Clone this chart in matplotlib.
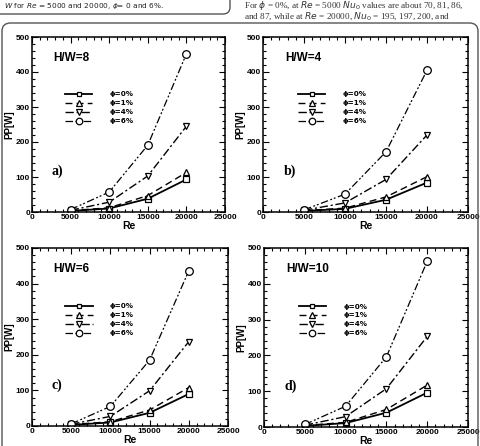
import matplotlib
matplotlib.use("Agg")
import matplotlib.pyplot as plt
from matplotlib.patches import FancyBboxPatch
from matplotlib.ticker import MultipleLocator

W, H = 481, 446
fig = plt.figure(figsize=(W / 100, H / 100), dpi=100)

re_vals = [5000, 10000, 15000, 20000]
phi_labels = ["ϕ=0%", "ϕ=1%", "ϕ=4%", "ϕ=6%"]

# PP [W] per panel, series order: phi = 0, 1, 4, 6 %
pp_hw8 = [[3, 10, 38, 93], [4, 12, 47, 113], [5, 28, 103, 245], [7, 57, 191, 452]]
pp_hw4 = [[3, 9, 35, 84], [4, 11, 43, 101], [5, 26, 93, 220], [6, 51, 172, 405]]
pp_hw6 = [[3, 10, 37, 90], [4, 12, 45, 108], [5, 27, 99, 237], [6, 55, 185, 436]]
pp_hw10 = [[3, 11, 40, 96], [4, 13, 49, 117], [5, 29, 107, 253], [7, 58, 196, 463]]

panels = [
    ("H/W=8", "a)", pp_hw8, (32, 225, 37, 212)),
    ("H/W=4", "b)", pp_hw4, (263, 468, 37, 212)),
    ("H/W=6", "c)", pp_hw6, (32, 228, 248, 426)),
    ("H/W=10", "d)", pp_hw10, (264, 468, 248, 427)),
]

markers = ["s", "^", "v", "o"]
msizes = [4.2, 4.5, 4.5, 5.5]
lstyles = ["-", (0, (5, 3)), (0, (6, 2, 1.5, 2)), (0, (6, 2, 1.5, 1.5, 1.5, 2))]
lwidths = [1.3, 1.0, 1.0, 0.9]

bold = dict(family="Liberation Sans", weight="bold")

for title, tag, data, (x0, x1, y0, y1) in panels:
    ax = fig.add_axes([x0 / W, 1 - y1 / H, (x1 - x0) / W, (y1 - y0) / H])
    for i, series in enumerate(data):
        ax.plot(re_vals, series, linestyle=lstyles[i], linewidth=lwidths[i],
                color="black", marker=markers[i], markersize=msizes[i],
                markerfacecolor="white", markeredgecolor="black",
                markeredgewidth=0.9, label=phi_labels[i])
    ax.set_xlim(0, 25000)
    ax.set_ylim(0, 500)
    ax.xaxis.set_major_locator(MultipleLocator(5000))
    ax.xaxis.set_minor_locator(MultipleLocator(1000))
    ax.yaxis.set_major_locator(MultipleLocator(100))
    ax.yaxis.set_minor_locator(MultipleLocator(20))
    ax.tick_params(which="both", direction="in", top=True, right=True,
                   width=0.8, labelsize=6, pad=1.5)
    ax.tick_params(which="major", length=4)
    ax.tick_params(which="minor", length=2)
    for lab in ax.get_xticklabels() + ax.get_yticklabels():
        lab.set_fontfamily("Liberation Sans")
        lab.set_fontweight("bold")
    for sp in ax.spines.values():
        sp.set_linewidth(1.1)
    ax.set_xlabel("Re", fontsize=7.5, labelpad=0, **bold)
    ax.set_ylabel("PP[W]", fontsize=7, labelpad=1, **bold)
    ax.text(0.11, 0.88, title, transform=ax.transAxes, fontsize=8.5,
            va="center", ha="left", **bold)
    ax.text(0.10, 0.23, tag, transform=ax.transAxes, fontsize=10,
            va="center", ha="left", family="Liberation Serif", weight="bold")
    ax.legend(loc="upper left", bbox_to_anchor=(0.17, 0.69),
              frameon=False, handlelength=3.8, handletextpad=2.4,
              labelspacing=0.4, borderpad=0, borderaxespad=0, markerscale=0.85,
              prop=dict(family="DejaVu Sans", weight="bold", size=5.2))

# page fragments around the figure
fig.patches.append(FancyBboxPatch((-20 / W, 1 - 14 / H), 250 / W, 40 / H,
                                  boxstyle="round,pad=0,rounding_size=0.015",
                                  transform=fig.transFigure, fill=False,
                                  edgecolor="#555555", linewidth=1.0))
fig.patches.append(FancyBboxPatch((2 / W, -20 / H), 476 / W, (446 - 23 + 20) / H,
                                  boxstyle="round,pad=0,rounding_size=0.018",
                                  transform=fig.transFigure, fill=False,
                                  edgecolor="#555555", linewidth=1.0))
fig.text(4 / W, 1 - 6 / H, r"$W$ for $Re$ = 5000 and 20000, $\phi$= 0 and 6%.",
         fontsize=5.3, family="DejaVu Sans", va="center", ha="left", color="#222222")
fig.text(244 / W, 1 - 5 / H,
         r"For $\phi$ = 0%, at $Re$ = 5000 $Nu_0$ values are about 70, 81, 86,",
         fontsize=6.6, family="Liberation Serif", va="center", ha="left",
         color="#333333")
fig.text(244 / W, 1 - 16 / H,
         r"and 87, while at $Re$ = 20000, $Nu_0$ = 195, 197, 200, and",
         fontsize=6.6, family="Liberation Serif", va="center", ha="left",
         color="#333333")

fig.savefig("out.png", dpi=100)
